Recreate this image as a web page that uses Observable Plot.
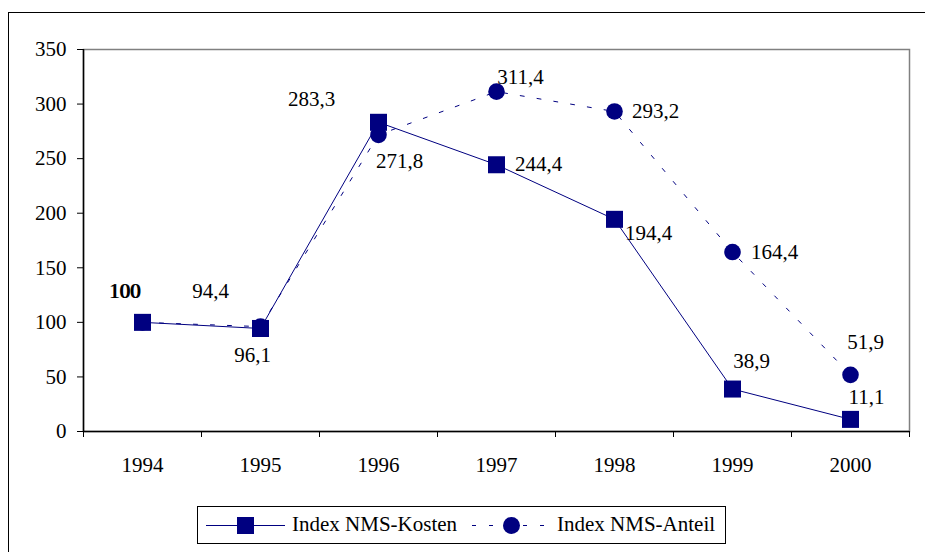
<!DOCTYPE html>
<html><head><meta charset="utf-8">
<script src="https://cdn.jsdelivr.net/npm/d3@7"></script>
<script src="https://cdn.jsdelivr.net/npm/@observablehq/plot@0.6"></script>
<style>
body{margin:0;background:#fff;overflow:hidden;font-family:"Liberation Serif","Times New Roman",serif;}
#wrap{position:relative;width:925px;height:552px;overflow:hidden;}
#outer{position:absolute;left:8px;top:12px;width:940px;height:600px;border:1px solid #000;box-sizing:border-box;pointer-events:none;}
#legend{position:absolute;left:197px;top:506px;width:529px;height:38px;border:1px solid #000;box-sizing:border-box;background:#fff;}
#legend .lbl{position:absolute;top:5px;font-family:"Liberation Serif","Times New Roman",serif;font-size:21px;line-height:25px;white-space:nowrap;color:#000;}
</style></head><body>
<div id="wrap"><div id="chart"></div><div id="outer"></div><div id="legend"></div></div>
<script>
// ---- data ----
const years = [1994, 1995, 1996, 1997, 1998, 1999, 2000];
const kosten = [100, 94.4, 283.3, 244.4, 194.4, 38.9, 11.1];
const anteil = [100, 96.1, 271.8, 311.4, 293.2, 164.4, 51.9];
const yTicks = [0, 50, 100, 150, 200, 250, 300, 350];
const seriesNames = ["Index NMS-Kosten", "Index NMS-Anteil"];

// ---- layout (label offsets in px, not data) ----
const offKosten = [[-18,-31],[-50,-37],[-67,-23],[42,0],[34,14],[19,-28],[16,-22]];
const offAnteil = [[-17,-31],[-8,29],[21,26],[24,-14],[41,0],[42,0],[15,-33]];

const FONT = '"Liberation Serif", "Times New Roman", serif';
const FS = 21;
const navy = "#000080";
const dash = "4,13";
const data = years.map((year, i) => ({year, kosten: kosten[i], anteil: anteil[i]}));
const fmt = v => Number.isInteger(v) ? String(v) : v.toFixed(1).replace(".", ",");
const boundaries = [...years.map(y => y - 0.5), years[years.length - 1] + 0.5];

const labelMarks = [];
data.forEach((d, i) => {
  labelMarks.push(Plot.text([d], {x: "year", y: "kosten", text: r => fmt(r.kosten), dx: offKosten[i][0], dy: offKosten[i][1], fontSize: FS, fontFamily: FONT, fill: "#000"}));
  labelMarks.push(Plot.text([d], {x: "year", y: "anteil", text: r => fmt(r.anteil), dx: offAnteil[i][0], dy: offAnteil[i][1], fontSize: FS, fontFamily: FONT, fill: "#000"}));
});

const chart = Plot.plot({
  width: 925, height: 552,
  marginLeft: 83, marginRight: 16, marginTop: 49, marginBottom: 121,
  style: {fontFamily: FONT, fontSize: FS + "px", background: "transparent", color: "#000"},
  x: {type: "linear", domain: [boundaries[0], boundaries[boundaries.length - 1]]},
  y: {domain: [0, 350]},
  marks: [
    Plot.frame({stroke: "#808080", strokeWidth: 1.5}),
    Plot.axisY({ticks: yTicks, tickSize: 6, tickPadding: 11, fontSize: FS, fontFamily: FONT, label: null, tickFormat: d => String(d)}),
    Plot.axisX({ticks: boundaries, tickSize: 6, tickFormat: () => "", label: null}),
    Plot.axisX({ticks: years, tickSize: 0, tickPadding: 26, fontSize: FS, fontFamily: FONT, label: null, tickFormat: d => String(d)}),
    Plot.ruleY([0], {stroke: "#000", strokeWidth: 1.5}),
    Plot.ruleX([boundaries[0]], {stroke: "#000", strokeWidth: 1.5}),
    Plot.line(data, {x: "year", y: "anteil", stroke: navy, strokeWidth: 1, strokeDasharray: dash}),
    Plot.line(data, {x: "year", y: "kosten", stroke: navy, strokeWidth: 1}),
    Plot.dot(data, {x: "year", y: "anteil", symbol: "circle", r: 8.3, fill: navy}),
    Plot.dot(data, {x: "year", y: "kosten", symbol: "square", r: 9.6, fill: navy}),
    ...labelMarks
  ]
});
document.getElementById("chart").appendChild(chart);

// ---- legend ----
const legend = document.getElementById("legend");
const items = [
  {name: seriesNames[0], x: 7, shape: "square", dashed: false, textX: 94},
  {name: seriesNames[1], x: 273, shape: "circle", dashed: true, textX: 359}
];
items.forEach(it => {
  const sw = document.createElementNS("http://www.w3.org/2000/svg", "svg");
  sw.setAttribute("width", 82); sw.setAttribute("height", 36);
  sw.style.position = "absolute"; sw.style.left = it.x + "px"; sw.style.top = "0px";
  const ln = document.createElementNS(sw.namespaceURI, "line");
  ln.setAttribute("x1", 1); ln.setAttribute("x2", 80); ln.setAttribute("y1", 18.5); ln.setAttribute("y2", 18.5);
  ln.setAttribute("stroke", navy); ln.setAttribute("stroke-width", 1);
  if (it.dashed) ln.setAttribute("stroke-dasharray", dash);
  sw.appendChild(ln);
  if (it.shape === "square") {
    const r = document.createElementNS(sw.namespaceURI, "rect");
    r.setAttribute("x", 32); r.setAttribute("y", 10); r.setAttribute("width", 17); r.setAttribute("height", 17);
    r.setAttribute("fill", navy); sw.appendChild(r);
  } else {
    const c = document.createElementNS(sw.namespaceURI, "circle");
    c.setAttribute("cx", 40.5); c.setAttribute("cy", 18.5); c.setAttribute("r", 8.5);
    c.setAttribute("fill", navy); sw.appendChild(c);
  }
  legend.appendChild(sw);
  const t = document.createElement("div");
  t.className = "lbl"; t.style.left = it.textX + "px"; t.textContent = it.name;
  legend.appendChild(t);
});
</script>
</body></html>
